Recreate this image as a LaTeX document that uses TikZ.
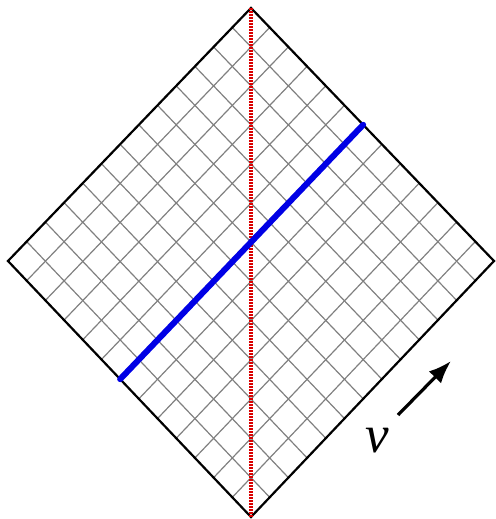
\documentclass[tikz,border=0pt]{standalone}
\usepackage{fontspec}
\setmainfont{Liberation Serif}
\usepackage{tikz}
\usetikzlibrary{calc,arrows.meta}
\tikzset{
  % --- the diamond and its lattice -------------------------------------------
  rim/.style={black,line width=2.2pt,line join=miter},
  lattice/.style={black!50,line width=1.2pt},
  % --- marked lines ----------------------------------------------------------
  axis/.style={red!85!black,line width=3.2pt,dash pattern=on 1.6pt off 1.4pt},
  slice/.style={blue!90!black,line width=6pt,line cap=round},
  boost/.style={-{Latex[length=8mm,width=6mm]},black,line width=3.2pt},
  vlab/.style={font=\fontsize{53}{53}\selectfont\itshape,inner sep=0pt},
}

\begin{document}
\begin{tikzpicture}[x=1pt,y=-1pt]
  \useasboundingbox (0,0) rectangle (495,519);

  % ---- corners of the diamond ----
  \coordinate (top)    at (251,8);
  \coordinate (left)   at (8,261);
  \coordinate (right)  at (494,261);
  \coordinate (bottom) at (251,517);

  % ---- the lattice, 13 cells a side ----
  \foreach \i in {1,...,12} {
    \draw[lattice] ($(bottom)!\i/13!(right)$) -- ($(left)!\i/13!(top)$);
    \draw[lattice] ($(bottom)!\i/13!(left)$) -- ($(right)!\i/13!(top)$);
  }

  % ---- the rim ----
  \draw[rim] (top) -- (right) -- (bottom) -- (left) -- cycle;

  % ---- the vertical axis and the slanted slice ----
  \draw[axis] (top) -- (bottom);
  \coordinate (s1) at ($(bottom)!7/13!(left)$);
  \coordinate (s2) at ($(right)!7/13!(top)$);
  \draw[slice] (s1) -- (s2);

  % ---- direction of v ----
  \coordinate (vtail) at (398,415);
  \coordinate (vhead) at (451,361);
  \draw[boost] (vtail) -- (vhead);
  \node[vlab] (v) at (377,441) {v};
\end{tikzpicture}
\end{document}
